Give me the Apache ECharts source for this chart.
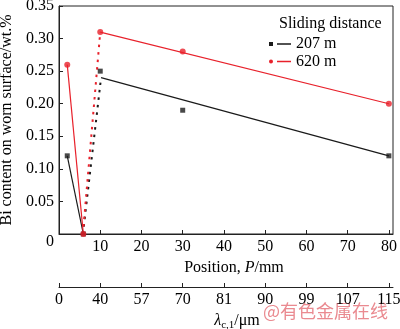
<!DOCTYPE html>
<html><head><meta charset="utf-8">
<script src="https://cdn.jsdelivr.net/npm/echarts@6/dist/echarts.min.js"></script>
<style>html,body{margin:0;padding:0;background:#fff}#c{width:400px;height:329px}</style>
</head><body><div id="c"></div>
<script>
// ---- data ----
var positionTicks = [0, 10, 20, 30, 40, 50, 60, 70, 80];
var lambdaLabels = ['0', '40', '57', '70', '81', '90', '99', '107', '115'];
var yTicks = [0, 0.05, 0.10, 0.15, 0.20, 0.25, 0.30, 0.35];
var positions = [2, 5.9, 10, 30, 80];
var bi207 = [0.12, 0, 0.25, 0.19, 0.12];
var bi620 = [0.26, 0, 0.31, 0.28, 0.20];
var drop207 = [[2, 0.12], [5.9, 0]];
var drop620 = [[2, 0.26], [5.9, 0]];
var rise207 = [[5.8, 0], [10.2, 0.24]];
var rise620 = [[5.8, 0], [10, 0.31]];
var fit207 = [[10.2, 0.24], [80, 0.12]];
var fit620 = [[10, 0.31], [80, 0.20]];

var BLACK = '#1a1a1a', RED = '#e8212b';
var FONT = '"Liberation Serif", "Times New Roman", serif';
function pts(ys) { return positions.map(function (p, i) { return [p, ys[i]]; }); }
function seg(name, data, color, dotted) {
  return { name: name, type: 'line', data: data, symbol: 'none', silent: true,
    lineStyle: { color: color, width: dotted ? 2 : 1.2, type: dotted ? [2.5, 5] : 'solid' },
    itemStyle: { color: color }, z: 2 };
}
var chart = echarts.init(document.getElementById('c'));
chart.setOption({
  animation: false,
  textStyle: { fontFamily: FONT },
  title: { text: 'Sliding distance', left: 274, top: 11,
    textStyle: { fontFamily: FONT, fontSize: 16, fontWeight: 'normal', color: '#000' } },
  legend: {
    orient: 'vertical', left: 264, top: 31, itemWidth: 22, itemHeight: 4, itemGap: 1.5,
    textStyle: { fontFamily: FONT, fontSize: 16, color: '#000', lineHeight: 16 },
    data: [
      { name: '207 m', icon: 'path://M0,0h4v4h-4z M8,1.3h14v1.4h-14z' },
      { name: '620 m', icon: 'path://M0,2a2,2 0 1,0 4,0a2,2 0 1,0 -4,0z M8,1.3h14v1.4h-14z' }
    ]
  },
  grid: { left: 59, right: 7, top: 6, bottom: 95, show: true, borderColor: '#222', borderWidth: 1,
    containLabel: false, outerBoundsMode: 'none' },
  xAxis: [{
    type: 'value', min: 0, max: 81, interval: 10, position: 'bottom',
    name: 'Position, {i|P}/mm', nameLocation: 'middle', nameGap: 22,
    nameTextStyle: { fontFamily: FONT, fontSize: 16, color: '#000', padding: [0, 0, 0, 16],
      rich: { i: { fontFamily: FONT, fontSize: 16, fontStyle: 'italic', color: '#000' } } },
    axisLine: { show: true, lineStyle: { color: '#222', width: 1 } },
    axisTick: { show: true, inside: true, length: 4, customValues: positionTicks, lineStyle: { color: '#222' } },
    axisLabel: { customValues: positionTicks.slice(1), fontFamily: FONT, fontSize: 16, color: '#000', margin: 5 },
    splitLine: { show: false }
  }, {
    type: 'value', min: 0, max: 81, interval: 10, position: 'bottom', offset: 53,
    name: '{i|λ}{s|c,1}/μm', nameLocation: 'middle', nameGap: 19,
    nameTextStyle: { fontFamily: FONT, fontSize: 16, color: '#000', padding: [0, 0, 0, 22],
      rich: { i: { fontFamily: FONT, fontSize: 16, fontStyle: 'italic', color: '#000' },
              s: { fontFamily: FONT, fontSize: 11, color: '#000', padding: [8, 0, 0, 0] } } },
    axisLine: { show: true, lineStyle: { color: '#222', width: 1 } },
    axisTick: { show: true, inside: true, length: 4, customValues: positionTicks, lineStyle: { color: '#222' } },
    axisLabel: { customValues: positionTicks, fontFamily: FONT, fontSize: 16, color: '#000', margin: 5,
      formatter: function (v) { return lambdaLabels[Math.round(v / 10)]; } },
    splitLine: { show: false }
  }],
  yAxis: {
    type: 'value', min: 0, max: 0.35, interval: 0.05,
    name: 'Bi content on worn surface/wt.%', nameLocation: 'middle', nameGap: 38,
    nameTextStyle: { fontFamily: FONT, fontSize: 16, color: '#000' },
    axisLine: { show: true, lineStyle: { color: '#222', width: 1 } },
    axisTick: { show: true, inside: true, length: 4, customValues: yTicks, lineStyle: { color: '#222' } },
    axisLabel: { customValues: yTicks, fontFamily: FONT, fontSize: 16, color: '#000', margin: 5,
      formatter: function (v) { return v === 0 ? '{z|0}' : v.toFixed(2); },
      rich: { z: { fontFamily: FONT, fontSize: 16, color: '#000', padding: [15, 0, 0, 0] } } },
    splitLine: { show: false }
  },
  series: [
    seg('207 m', drop207, BLACK, false),
    seg('207 m', rise207, BLACK, true),
    seg('207 m', fit207, BLACK, false),
    seg('620 m', drop620, RED, false),
    seg('620 m', rise620, RED, true),
    seg('620 m', fit620, RED, false),
    { name: '207 m', type: 'scatter', data: pts(bi207), symbol: 'rect', symbolSize: 5,
      itemStyle: { color: BLACK }, z: 3 },
    { name: '620 m', type: 'scatter', data: pts(bi620), symbol: 'circle', symbolSize: 6,
      itemStyle: { color: RED }, z: 4 }
  ],
  graphic: [{ type: 'text', left: 263, top: 302,
    style: { text: '@有色金属在线', fontFamily: 'Noto Sans CJK SC', fontSize: 18, fill: '#ea8a90' } }]
});
</script></body></html>
